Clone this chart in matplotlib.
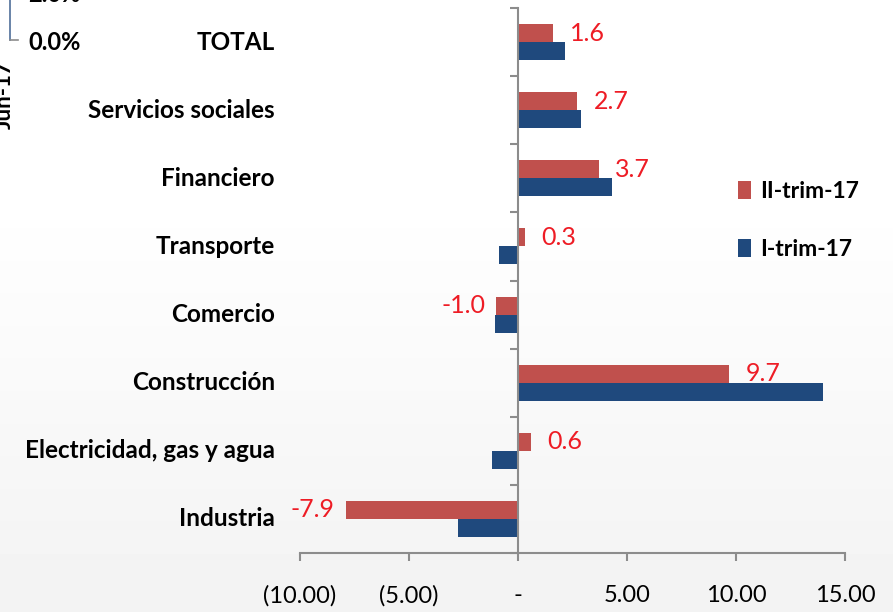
import numpy as np
import matplotlib
matplotlib.use("Agg")
import matplotlib.pyplot as plt
from matplotlib.ticker import FixedLocator, FuncFormatter

# Sector growth data (top to bottom as shown)
categories = ["TOTAL", "Servicios sociales", "Financiero", "Transporte",
              "Comercio", "Construcción", "Electricidad, gas y agua", "Industria"]
ii_trim_17 = [1.6, 2.7, 3.7, 0.3, -1.0, 9.7, 0.6, -7.9]
i_trim_17 = [2.15, 2.9, 4.3, -0.85, -1.05, 14.0, -1.2, -2.75]
x_ticks = [-10, -5, 0, 5, 10, 15]

RED = "#C0504D"
BLUE = "#1F497D"
LABEL_RED = "#EE1C25"

plt.rcParams["font.family"] = ["Lato", "DejaVu Sans"]

fig = plt.figure(figsize=(8.93, 6.12), dpi=100)

# faint grey gradient in the lower part of the background
bg = fig.add_axes([0, 0, 1, 1], zorder=-10)
grad = np.ones((612, 1))
ramp = np.clip((np.arange(612) - 195) / (612 - 195), 0, 1)
grad[:, 0] = 1.0 - 0.05 * ramp
bg.imshow(grad, cmap="gray", vmin=0, vmax=1, aspect="auto", extent=[0, 1, 1, 0])
bg.set_xlim(0, 1)
bg.set_ylim(1, 0)
bg.axis("off")

ax = fig.add_axes([300 / 893, (612 - 553) / 612, 545 / 893, 545 / 612])
ax.patch.set_alpha(0)

n = len(categories)
y = np.arange(n)[::-1].astype(float)
h = 0.265

ax.barh(y + h / 2, ii_trim_17, height=h, color=RED, label="II-trim-17")
ax.barh(y - h / 2, i_trim_17, height=h, color=BLUE, label="I-trim-17")

ax.set_xlim(-10, 15)
ax.set_ylim(-0.5, n - 0.5)

# data labels for the II-trim-17 series
for yi, v in zip(y, ii_trim_17):
    if v >= 0:
        ax.annotate(f"{v:.1f}", (v, yi + h / 2), xytext=(12, 0),
                    textcoords="offset points", ha="left", va="center",
                    color=LABEL_RED, fontsize=18)
    else:
        ax.annotate(f"{v:.1f}", (v, yi + h / 2), xytext=(-8, 0),
                    textcoords="offset points", ha="right", va="center",
                    color=LABEL_RED, fontsize=18)

# category labels at the far left
for yi, c in zip(y, categories):
    ax.text(-0.046, yi, c, transform=ax.get_yaxis_transform(), ha="right",
            va="center", fontsize=17.5, fontweight="bold")

# axes styling
for s in ["top", "right"]:
    ax.spines[s].set_visible(False)
ax.spines["left"].set_position(("data", 0))
ax.spines["left"].set_color("#8C8C8C")
ax.spines["left"].set_linewidth(1.5)
ax.spines["bottom"].set_color("#8C8C8C")
ax.spines["bottom"].set_linewidth(1.5)

ax.yaxis.set_major_locator(FixedLocator(np.arange(-0.5, n, 1.0)))
ax.tick_params(axis="y", direction="out", length=6, width=1.5,
               color="#8C8C8C", labelleft=False)

ax.xaxis.set_major_locator(FixedLocator(x_ticks))


def fmt(v, pos):
    if v == 0:
        return "-"
    if v < 0:
        return f"({abs(v):.2f})"
    return f"{v:.2f}"


ax.xaxis.set_major_formatter(FuncFormatter(fmt))
ax.tick_params(axis="x", direction="out", length=6, width=1.5,
               color="#8C8C8C", labelsize=17, pad=17)

leg = ax.legend(loc="upper left", bbox_to_anchor=(0.765, 0.72), frameon=False,
                handlelength=0.6, handleheight=0.8, handletextpad=0.4,
                labelspacing=1.6, prop={"weight": "bold", "size": 16.5})

# clipped fragments of a neighbouring chart at the top-left
fig.text(28 / 893, 1 - 42 / 612, "0.0%", fontsize=17, fontweight="bold",
         va="center", ha="left")
fig.text(28 / 893, 1 + 5 / 612, "2.0%", fontsize=17, fontweight="bold",
         va="center", ha="left")
fig.text(4 / 893, 1 - 95 / 612, "Jun-17", fontsize=16, fontweight="bold",
         va="center", ha="center", rotation=90)
fig.add_artist(plt.Line2D([10 / 893, 10 / 893], [1, 1 - 40 / 612],
                          color="#4F6E9A", lw=1.2))
fig.add_artist(plt.Line2D([10 / 893, 18 / 893], [1 - 40 / 612, 1 - 40 / 612],
                          color="#8C8C8C", lw=1.2))

fig.savefig("out.png", dpi=100)
